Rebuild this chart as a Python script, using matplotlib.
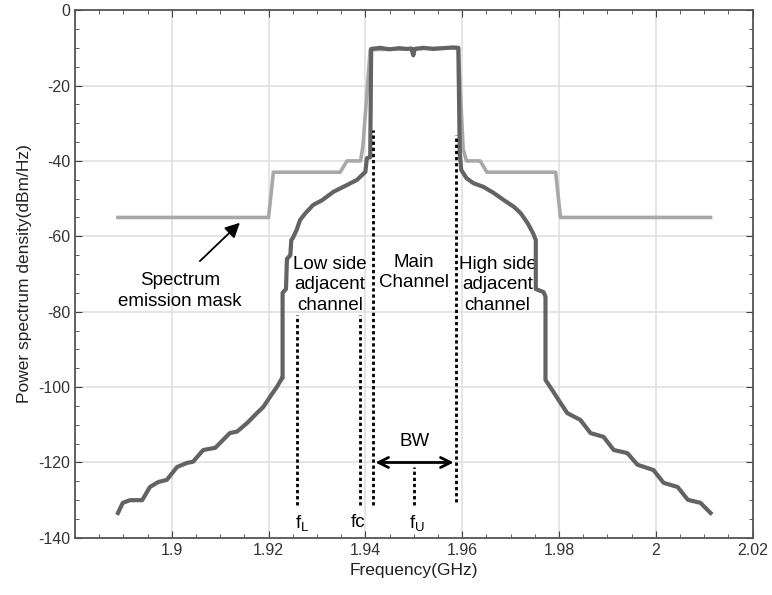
import matplotlib
matplotlib.use("Agg")
import matplotlib.pyplot as plt
import numpy as np

plt.rcParams['font.family'] = ['Liberation Sans', 'DejaVu Sans']
plt.rcParams['axes.unicode_minus'] = False

# measured power spectrum density (GHz, dBm/Hz)
psd_freq = [1.8889, 1.8899, 1.8914, 1.8939, 1.8955, 1.8972, 1.8990, 1.9011,
            1.9032, 1.9044, 1.9065, 1.9090, 1.9120, 1.9135, 1.9156, 1.9176,
            1.9189, 1.9203, 1.9217, 1.9228, 1.9229, 1.9229, 1.9236, 1.9238,
            1.9245, 1.9247, 1.9250, 1.9258, 1.9265, 1.9276, 1.9292, 1.9311,
            1.9334, 1.9362, 1.9383, 1.9400, 1.9403, 1.9410, 1.9412,
            1.9430, 1.9450, 1.9470, 1.9485, 1.9495, 1.9499, 1.9502, 1.9520,
            1.9540, 1.9560, 1.9580, 1.9592,
            1.9595, 1.9598, 1.9609, 1.9623, 1.9644, 1.9665, 1.9686, 1.9707,
            1.9721, 1.9735, 1.9746, 1.9752, 1.9752, 1.9768, 1.9772, 1.9772,
            1.9786, 1.9803, 1.9817, 1.9844, 1.9865, 1.9892, 1.9913, 1.9941,
            1.9962, 1.9995, 2.0016, 2.0045, 2.0066, 2.0092, 2.0113]
psd_val = [-133.4, -130.7, -130.0, -130.0, -126.5, -125.2, -124.6, -121.2,
           -120.1, -119.8, -116.7, -116.1, -112.2, -111.8, -109.5, -106.9,
           -105.3, -102.6, -100.0, -97.6, -97.6, -75.0, -74.0, -66.0,
           -65.0, -61.0, -60.5, -58.3, -55.7, -53.9, -51.7, -50.4,
           -48.2, -46.4, -45.0, -42.9, -39.3, -39.0, -10.3,
           -10.0, -10.4, -10.1, -10.3, -10.2, -12.0, -10.3, -10.0,
           -10.3, -10.1, -9.9, -10.0,
           -38.0, -42.4, -44.6, -45.9, -46.9, -48.5, -50.4, -52.2,
           -53.9, -56.5, -59.1, -61.0, -74.0, -74.8, -76.0, -98.1,
           -100.8, -104.2, -106.9, -108.7, -112.2, -113.2, -116.7, -117.5,
           -120.6, -122.0, -125.4, -126.5, -129.9, -130.7, -133.4]

# spectrum emission mask
mask_freq = [1.8889, 1.9200, 1.9210, 1.9348, 1.9362, 1.9390, 1.9395, 1.9410,
             1.9592, 1.9602, 1.9609, 1.9637, 1.9651, 1.9793, 1.9803, 2.0113]
mask_val = [-55, -55, -43, -43, -40, -40, -36, -10.5,
            -10, -37, -40, -40, -43, -43, -55, -55]

# dotted marker lines: frequency, bottom, top
mark_freq = [1.9258, 1.9388, 1.9415, 1.9501, 1.9588]
mark_low = [-131.3, -131.3, -131.3, -131.3, -130.4]
mark_high = [-80.9, -80.9, -31.8, -121.1, -33.1]

bw_edges = [1.9415, 1.9588]
bw_level = -120

fig, ax = plt.subplots(figsize=(7.72, 5.95), dpi=100)
fig.subplots_adjust(left=0.097, right=0.975, top=0.983, bottom=0.096)

ax.plot(mask_freq, mask_val, c='#a8a8a8', lw=2.6, zorder=3)
ax.plot(psd_freq, psd_val, c='#636363', lw=3.0, zorder=4)

for f, lo, hi in zip(mark_freq, mark_low, mark_high):
    ax.plot([f, f], [lo, hi], c='black', lw=2.0, ls=(0, (1.2, 1.0)), zorder=5)

# bandwidth arrow
ax.annotate('', xy=(bw_edges[0], bw_level), xytext=(bw_edges[1], bw_level),
            arrowprops=dict(arrowstyle='<->', color='black', lw=2,
                            mutation_scale=18), zorder=6)
ax.text(1.9501, -114.5, 'BW', ha='center', va='center', fontsize=13.5)

# mask pointer
ax.annotate('', xy=(1.9145, -55.9), xytext=(1.9054, -67.1),
            arrowprops=dict(arrowstyle='-|>', color='black', lw=1.3,
                            mutation_scale=22))

txt = dict(ha='center', va='center', fontsize=13.5, linespacing=1.25)
ax.text(1.9017, -74.5, 'Spectrum\nemission mask', **txt)
ax.text(1.9327, -72.9, 'Low side\nadjacent\nchannel', **txt)
ax.text(1.9501, -69.7, 'Main\nChannel', **txt)
ax.text(1.9673, -72.9, 'High side\nadjacent\nchannel', **txt)
ax.text(1.9269, -136, '$\\mathregular{f_L}$', **txt)
ax.text(1.9385, -136, 'fc', **txt)
ax.text(1.9507, -136, '$\\mathregular{f_U}$', **txt)

# axes, ticks and grid in the matlab look
ax.set(xlim=(1.88, 2.02), xticks=np.arange(1.9, 2.021, 0.02),
       ylim=(-140, 0), yticks=np.arange(-140, 1, 20))
ax.set_xticklabels(['1.9', '1.92', '1.94', '1.96', '1.98', '2', '2.02'])
ax.set_xticks(np.arange(1.88, 2.0201, 0.005), minor=True)
ax.set_yticks(np.arange(-140, 1, 5), minor=True)
ax.tick_params(which='both', direction='in', top=True, right=True,
               colors='#404040', labelcolor='#333333', labelsize=11.5)
ax.tick_params(which='major', length=5)
ax.tick_params(which='minor', length=3)
ax.grid(which='major', color='#e0e0e0', lw=1.2)
ax.set_axisbelow(True)
for sp in ax.spines.values():
    sp.set_color('#555555')
    sp.set_linewidth(1.3)

ax.set_xlabel('Frequency(GHz)', fontsize=12.5, color='#222222')
ax.set_ylabel('Power spectrum density(dBm/Hz)', fontsize=12.5, color='#222222')

fig.savefig('out.png', dpi=100)
